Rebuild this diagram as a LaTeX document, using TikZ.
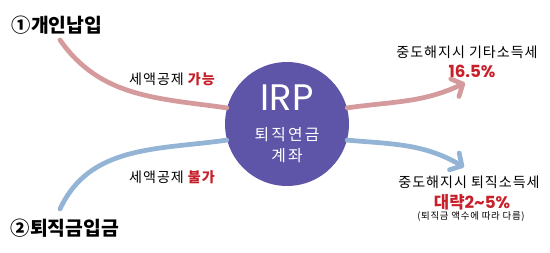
\documentclass[tikz,border=0pt]{standalone}
\usepackage{fontspec}
\setmainfont{Noto Sans CJK KR}
\newfontfamily\latinfont{Poppins}
\newfontfamily\spacedfont[LetterSpace=7]{Noto Sans CJK KR}
\newfontfamily\widefont[LetterSpace=14]{Noto Sans CJK KR}
\usetikzlibrary{arrows.meta, positioning}

\definecolor{irppurple}{HTML}{5F55A8}
\definecolor{pinkline}{HTML}{D49A9C}
\definecolor{blueline}{HTML}{94B4D6}
\definecolor{rateRed}{HTML}{C8202A}

\begin{document}
\begin{tikzpicture}[
    x=0.02cm, y=0.02cm,
    heading/.style={font=\fontsize{11}{12}\selectfont\bfseries, inner sep=0pt},
    label/.style={font=\spacedfont\fontsize{8}{9}\selectfont, inner sep=0pt},
    rate/.style={font=\fontsize{9.5}{10}\selectfont\bfseries, text=rateRed, inner sep=0pt},
    note/.style={font=\spacedfont\fontsize{5.4}{6}\selectfont, inner sep=0pt},
    account/.style={circle, fill=irppurple, minimum size=2.48cm, inner sep=0pt, text=white, align=center},
    pinkarrow/.style={draw=pinkline, line width=2.7pt, line cap=round},
    bluearrow/.style={draw=blueline, line width=2.7pt, line cap=round},
    tip/.style={-{Straight Barb[length=5pt, width=11pt, line width=2.7pt, round]}}
]
\useasboundingbox (0,0) rectangle (550,253);

% Center account
\node[account] (irp) at (287, 129) {{\latinfont\fontsize{21}{22}\selectfont IRP}\\[5pt]
  {\widefont\fontsize{9}{11}\selectfont 퇴직연금}\\{\widefont\fontsize{9}{11}\selectfont 계좌}};

% Sources (left)
\node[heading] (gaein) at (57, 228) {①개인납입};
\node[heading] (toejik) at (65, 25) {②퇴직금입금};
\coordinate (gaeinstart) at (60, 213);
\coordinate (toejikstart) at (60, 44);

% Deduction labels
\node[label] (deduct1) at (172, 174) {세액공제 \textcolor{rateRed}{\bfseries 가능}};
\node[label] (deduct2) at (172, 76) {세액공제 \textcolor{rateRed}{\bfseries 불가}};

% Results (right)
\node[label] (tax1) at (467, 201) {중도해지시 기타소득세};
\node[rate] (rate1) at (472, 182) {\latinfont 16.5\%};
\coordinate (tip1) at (465, 170);

\node[label] (tax2) at (469, 71) {중도해지시 퇴직소득세};
\node[rate] (rate2) at (472, 51) {대략{\latinfont 2\textasciitilde5\%}};
\node[note] (note2) at (471, 36) {(퇴직금 액수에 따라 다름)};
\coordinate (tip2) at (464, 86);

% Flows
\draw[pinkarrow] (gaeinstart) to[out=-55, in=172] (irp.165);
\draw[pinkarrow, tip] (irp.15) to[out=8, in=205] (tip1);
\draw[bluearrow] (toejikstart) to[out=65, in=188] (irp.195);
\draw[bluearrow, tip] (irp.-15) to[out=-5, in=150] (tip2);

\end{tikzpicture}
\end{document}
